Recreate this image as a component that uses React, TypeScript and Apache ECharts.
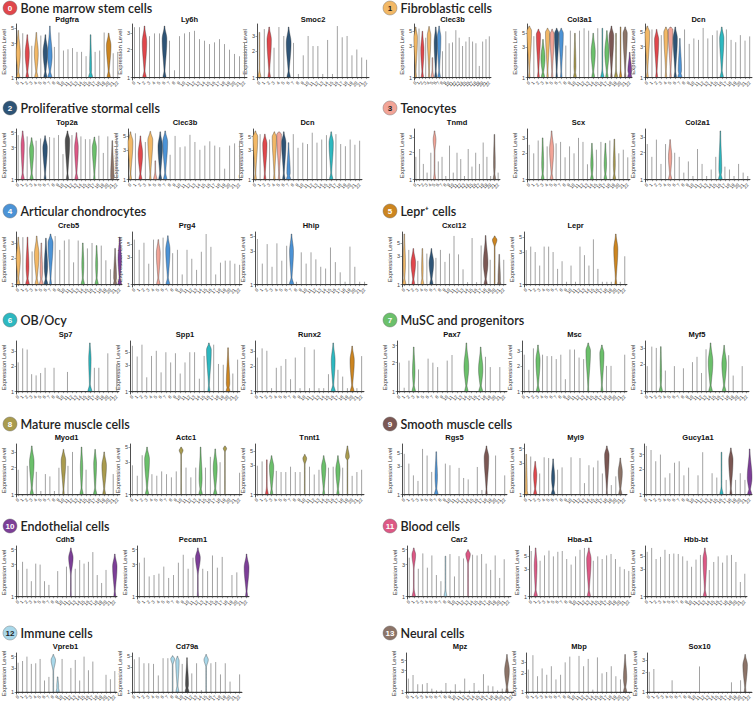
import React, { useEffect, useRef } from "react";
import * as echarts from "echarts";

// ---------- categories ----------
const CLUSTERS = Array.from({ length: 23 }, (_, i) => String(i));
const TYPE_NAMES = ["Bone marrow stem cells", "Fibroblastic cells", "Proliferative stormal cells", "Tenocytes", "Articular chondrocytes", "Lepr\u207A cells", "OB/Ocy", "MuSC and progenitors", "Mature muscle cells", "Smooth muscle cells", "Endothelial cells", "Blood cells", "Immune cells", "Neural cells"];
const TYPE_COLORS = ["#E0474C", "#F2B866", "#2E5476", "#F2A497", "#4C93D6", "#CC8520", "#2DB8C0", "#6BC06B", "#A99B4E", "#7B5753", "#7C3E97", "#DD5885", "#A9D8EA", "#8C7468"];
const CLUSTER_TYPE = [1, 11, 0, 7, 1, 3, 2, 4, 12, 12, 8, -1, 10, 11, 7, 12, 6, 7, 9, 8, 5, 13, 10];
const OTHER_COLOR = "#4D4D4D";

const T135 = [1, 3, 5];
const T123 = [1, 2, 3];

// ---------- data: max expression per cluster, and violin bodies [cluster, mode, width, zeroBlob, low] ----------
const pdgfraMax = [4.6, 4.2, 4.0, 2.8, 4.3, 3.9, 4.0, 5.3, 2.7, 4.3, 2.4, 2.5, 2.6, 2.3, 2.3, 2.0, 4.0, 2.3, 2.4, 4.3, 4.2, 2.2, 2.3];
const pdgfraVio = [[0, 2.2, 0.8, 0.6], [2, 2.2, 0.8, 0.5], [4, 2.2, 0.75, 0.6], [6, 2.3, 0.9, 0.6], [7, 2.0, 0.9, 0.8], [16, 1.3, 0.3, 0.8], [20, 2.8, 0.9, 0.6]];
const ly6hMax = [3.5, 3.5, 3.6, 2.8, 3.0, 3.0, 3.6, 2.5, 1.2, 2.8, 3.0, 3.1, 3.2, 2.6, 2.5, 2.3, 2.4, 2.6, 2.3, 2.0, 1.8, 1.7, 2.4];
const ly6hVio = [[2, 2.4, 0.8, 0.6], [6, 2.6, 0.85, 0.5]];
const smoc2Max = [3.3, 3.6, 3.8, 2.2, 3.8, 3.0, 3.8, 2.5, 1.1, 1.8, 3.0, 2.3, 2.3, 1.1, 2.7, 1.1, 3.9, 2.9, 3.0, 1.8, 2.1, 1.7, 1.6];
const smoc2Vio = [[0, 1, 0, 0.5], [2, 2.7, 0.8, 0.4], [6, 2.5, 0.9, 0.6]];
const clec3bMax = [5.8, 5.5, 5.0, 4.0, 5.9, 2.0, 5.8, 6.0, 2.5, 5.0, 3.3, 3.4, 5.2, 4.0, 3.0, 3.5, 4.1, 3.5, 3.3, 1.5, 3.5, 3.8, 4.2];
const clec3bVio = [[0, 4.0, 0.9, 0.3], [2, 2.6, 0.8, 0.5], [4, 4.3, 0.9, 0.2], [5, 1, 0, 0.6], [6, 3.4, 0.8, 0.5], [7, 4.0, 0.9, 0.6]];
const col3a1Max = [6.5, 4.5, 5.8, 4.0, 6.0, 5.8, 6.0, 6.0, 3.2, 5.5, 5.0, 5.5, 6.0, 5.5, 5.0, 6.0, 6.0, 5.5, 6.5, 5.0, 6.3, 6.3, 2.5];
const col3a1Vio = [[0, 5.5, 0.9, 0.2], [2, 4.8, 0.8, 0.3], [3, 2.0, 0.8, 0.6], [4, 5.2, 0.8, 0.2], [5, 4.8, 0.8, 0.2], [6, 5.0, 0.8, 0.2], [7, 5.0, 0.8, 0.2], [10, 1.5, 0.3, 0.5], [14, 2.5, 0.8, 0.5], [16, 1, 0, 0.6], [17, 2.5, 0.8, 0.4], [18, 4.5, 0.9, 0.2], [19, 1, 0, 0.6], [20, 1, 0, 0.4], [21, 5.0, 0.8, 0.2], [22, 1.3, 0.7, 0.8]];
const dcnMax = [6.2, 5.5, 5.5, 4.5, 6.0, 6.0, 6.0, 4.0, 5.5, 3.3, 4.0, 3.8, 5.8, 4.0, 4.5, 5.3, 6.0, 5.5, 3.8, 3.5, 4.5, 3.7, 4.3];
const dcnVio = [[0, 5.0, 0.9, 0.3], [2, 3.8, 0.8, 0.3], [4, 5.0, 0.8, 0.2], [5, 5.5, 0.9, 0.2], [6, 4.0, 0.8, 0.4], [7, 1.3, 0.6, 0.8], [16, 4.0, 0.8, 0.6]];
const top2aMax = [4.6, 5.3, 4.4, 4.2, 3.8, 4.1, 4.5, 4.3, 4.2, 4.6, 2.4, 5.3, 4.6, 5.0, 4.4, 4.0, 4.0, 4.3, 4.5, 2.5, 4.4, 3.8, 4.3];
const top2aVio = [[1, 3.3, 0.6, 0.6], [3, 2.8, 0.8, 0.6], [6, 3.0, 0.9, 0.3], [11, 3.8, 0.9, 0.4], [13, 3.0, 0.7, 0.6], [17, 3.0, 0.8, 0.2], [21, 1.1, 0.6, 0.6]];
const tnmdMax = [1.8, 2.2, 1.5, 1.2, 2.0, 3.5, 1.6, 1.8, 1.1, 2.4, 1.2, 2.0, 1.7, 1.1, 2.2, 1.4, 2.0, 1.5, 2.6, 1.8, 1.1, 3.2, 1.2];
const tnmdVio = [[5, 2.8, 0.6, 0.4, 2.0], [21, 1.5, 0.3, 0.5]];
const scxMax = [2.5, 2.0, 2.8, 3.0, 2.4, 3.6, 2.6, 2.7, 1.8, 2.4, 2.0, 3.0, 2.7, 1.5, 2.6, 2.2, 2.7, 2.6, 2.8, 2.9, 2.0, 2.2, 1.8];
const scxVio = [[3, 1.5, 0.3, 0.5], [5, 2.2, 0.8, 0.5], [14, 1.5, 0.4, 0.5], [17, 1.5, 0.4, 0.5], [19, 1.5, 0.3, 0.5]];
const col2a1Max = [2.5, 1.8, 2.8, 1.5, 2.5, 2.8, 2.0, 1.8, 1.2, 1.6, 1.1, 2.2, 1.5, 1.1, 1.3, 1.8, 3.5, 1.4, 1.3, 1.1, 1.5, 1.2, 1.1];
const col2a1Vio = [[5, 1.8, 0.6, 0.6], [16, 1.3, 0.5, 0.7]];
const creb5Max = [3.5, 3.5, 3.5, 2.4, 3.6, 3.0, 3.4, 3.8, 3.6, 2.5, 3.2, 3.3, 1.8, 3.2, 3.0, 2.6, 3.0, 2.8, 2.8, 1.9, 1.5, 2.6, 3.5];
const creb5Vio = [[0, 2.0, 0.8, 0.6], [2, 1.6, 0.5, 0.7], [4, 2.2, 0.9, 0.6], [5, 1.4, 0.4, 0.7], [6, 1.6, 0.6, 0.7], [7, 3.0, 1.0, 0.3], [14, 1.7, 0.3, 0.6], [17, 1.7, 0.3, 0.6], [21, 1.2, 0.5, 0.6], [22, 2.0, 0.6, 0.7]];
const prg4Max = [6.0, 4.0, 5.3, 2.3, 6.0, 6.0, 6.5, 7.0, 3.5, 4.0, 1.5, 4.0, 2.8, 1.8, 3.7, 7.5, 4.5, 1.5, 2.4, 2.6, 2.6, 2.3, 2.2];
const prg4Vio = [[5, 3.5, 0.7, 0.6], [7, 4.0, 0.8, 0.7]];
const hhipMax = [4.5, 2.0, 3.8, 1.8, 3.9, 2.2, 3.6, 5.3, 1.1, 2.9, 2.0, 2.9, 2.3, 1.8, 1.7, 3.4, 2.1, 1.5, 1.1, 3.5, 1.8, 1.1, 1.1];
const hhipVio = [[7, 3.0, 0.7, 0.8]];
const cxcl12Max = [7.0, 3.8, 4.0, 2.5, 4.0, 3.3, 4.0, 2.8, 3.8, 2.4, 3.3, 6.5, 3.2, 1.8, 1.1, 6.0, 1.1, 4.5, 6.6, 2.6, 6.5, 3.2, 2.6];
const cxcl12Vio = [[0, 2.2, 0.4, 0.6], [2, 2.3, 0.9, 0.5], [4, 1.8, 0.2, 0.5], [6, 2.3, 0.9, 0.6], [18, 2.3, 0.9, 0.6], [20, 5.6, 0.9, 0.0, 4.2], [21, 1.2, 0.4, 0.6]];
const leprMax = [3.2, 3.6, 3.0, 1.9, 3.6, 3.6, 3.0, 1.7, 2.2, 1.1, 1.9, 1.1, 3.6, 2.7, 1.9, 4.6, 1.7, 1.1, 1.1, 1.1, 5.5, 1.1, 2.6];
const leprVio = [[20, 3.3, 0.8, 0.3]];
const sp7Max = [2.2, 3.2, 3.1, 1.6, 1.55, 1.65, 1.9, 1.0, 1.9, 1.0, 1.0, 1.7, 1.0, 1.0, 1.0, 1.0, 3.7, 1.9, 1.9, 1.0, 2.8, 1.0, 2.1];
const sp7Vio = [[16, 2.4, 0.4, 0.8]];
const spp1Max = [6.5, 4.2, 6.8, 1.8, 4.3, 5.3, 2.2, 5.0, 3.3, 4.8, 2.1, 3.3, 5.0, 5.0, 1.7, 4.3, 7.3, 6.8, 3.1, 3.0, 6.0, 2.1, 3.7];
const spp1Vio = [[16, 5.5, 0.9, 0.3], [20, 1.4, 0.6, 0.7]];
const runx2Max = [2.5, 3.2, 3.0, 1.1, 1.9, 2.0, 2.4, 1.4, 2.5, 1.1, 3.3, 1.1, 3.1, 1.1, 1.1, 1.6, 3.7, 1.8, 1.5, 1.1, 3.4, 1.1, 2.6];
const runx2Vio = [[16, 2.3, 0.7, 0.8], [20, 2.3, 0.8, 0.7]];
const pax7Max = [2.0, 1.1, 2.1, 2.9, 1.7, 1.0, 2.2, 2.0, 1.8, 1.0, 2.1, 2.4, 1.0, 1.0, 3.2, 1.0, 1.0, 2.9, 2.3, 1.8, 1.0, 1.8, 1.0];
const pax7Vio = [[3, 1.6, 0.4, 0.6], [14, 1.8, 0.9, 0.6], [17, 1.7, 0.8, 0.7]];
const mscMax = [2.7, 1.8, 3.2, 3.5, 2.7, 2.6, 2.6, 2.4, 2.7, 1.4, 3.1, 3.1, 2.5, 2.4, 3.7, 1.0, 1.0, 3.5, 2.0, 2.0, 1.0, 1.0, 2.7];
const mscVio = [[3, 2.3, 0.8, 0.6], [14, 3.0, 0.9, 0.1], [17, 2.8, 0.8, 0.3]];
const myf5Max = [1.9, 3.1, 3.0, 3.1, 1.7, 1.0, 1.9, 1.0, 1.8, 1.0, 2.1, 2.4, 1.6, 2.9, 3.4, 1.0, 1.0, 3.2, 2.5, 1.5, 1.0, 1.9, 1.0];
const myf5Vio = [[3, 1.5, 0.2, 0.6], [14, 2.1, 0.9, 0.7], [17, 2.0, 0.9, 0.7]];
const myod1Max = [1.9, 1.0, 2.1, 3.5, 1.8, 1.1, 1.7, 1.6, 1.1, 2.0, 3.2, 2.1, 3.0, 1.0, 3.4, 1.9, 1.0, 3.2, 1.0, 3.0, 1.0, 1.7, 1.0];
const myod1Vio = [[3, 2.3, 0.9, 0.6], [10, 2.4, 0.9, 0.2], [14, 2.0, 0.4, 0.6], [17, 2.2, 0.5, 0.6], [19, 2.1, 0.9, 0.5]];
const actc1Max = [2.7, 1.9, 3.8, 5.0, 2.0, 1.9, 2.2, 2.0, 1.8, 2.2, 5.0, 2.5, 1.8, 2.5, 5.0, 2.5, 3.6, 4.7, 3.0, 5.2, 1.0, 1.0, 2.1];
const actc1Vio = [[3, 3.3, 0.9, 0.6], [10, 4.5, 0.7, 0, 3.8], [14, 1.7, 0.5, 0.6], [17, 2.5, 0.7, 0.6], [19, 4.8, 0.6, 0, 4.2]];
const tnnt1Max = [2.9, 3.4, 3.6, 4.2, 2.4, 2.3, 2.3, 2.8, 2.3, 2.3, 4.4, 2.8, 2.1, 2.5, 4.2, 2.7, 2.8, 4.2, 2.7, 6.0, 2.0, 2.3, 2.5];
const tnnt1Vio = [[2, 1, 0, 0.5], [3, 2.8, 0.8, 0.4], [10, 3.8, 0.7, 0, 3.0], [14, 2.8, 0.8, 0.3], [17, 2.5, 0.8, 0.4], [19, 4.0, 0.7, 0, 3.5]];
const rgs5Max = [4.8, 3.3, 2.1, 1.7, 5.8, 4.5, 2.4, 5.2, 1.0, 3.3, 3.1, 1.0, 2.8, 1.9, 1.8, 1.0, 2.9, 1.2, 6.5, 1.0, 4.5, 1.0, 2.1];
const rgs5Vio = [[7, 2.0, 0.4, 0.7], [18, 4.2, 0.9, 0.2]];
const myl9Max = [4.1, 3.8, 3.2, 2.1, 3.7, 3.6, 3.5, 2.4, 2.6, 1.0, 3.7, 1.0, 3.6, 1.5, 2.8, 2.6, 3.3, 2.1, 5.5, 1.4, 1.9, 3.6, 1.0];
const myl9Vio = [[0, 1.2, 0.3, 0.6], [2, 2.0, 0.6, 0.6], [6, 1.8, 0.6, 0.7], [18, 4.0, 0.9, 0.1], [21, 2.2, 0.8, 0.6]];
const gucy1a1Max = [3.8, 3.4, 2.5, 3.0, 1.6, 1.8, 2.4, 2.5, 1.7, 2.1, 1.0, 1.7, 3.2, 1.0, 1.8, 1.6, 3.2, 1.5, 3.6, 1.5, 1.8, 1.5, 3.5];
const gucy1a1Vio = [[16, 1, 0, 0.6], [18, 2.6, 0.8, 0.3], [22, 1.6, 0.9, 0.8]];
const cdh5Max = [2.5, 3.3, 2.6, 1.7, 3.1, 3.0, 1.7, 1.5, 1.0, 2.4, 1.0, 2.8, 5.3, 2.6, 3.5, 3.1, 3.3, 4.6, 2.1, 1.6, 2.5, 1.0, 4.3];
const cdh5Vio = [[12, 3.8, 0.9, 0.05, 2.0], [22, 2.8, 0.9, 0.3]];
const pecam1Max = [3.2, 3.8, 2.0, 2.1, 2.2, 2.8, 1.9, 2.1, 3.2, 4.2, 2.6, 3.8, 5.3, 2.6, 2.4, 4.1, 2.7, 3.9, 1.0, 2.1, 2.3, 1.0, 4.3];
const pecam1Vio = [[12, 3.8, 0.9, 0.1, 2.0], [22, 2.7, 0.9, 0.3]];
const car2Max = [3.8, 5.3, 2.6, 4.4, 2.7, 4.1, 2.1, 1.7, 4.0, 4.3, 2.0, 4.0, 3.7, 5.0, 4.2, 4.1, 4.3, 3.1, 2.5, 4.1, 1.9, 3.6, 1.0];
const car2Vio = [[1, 4.2, 0.7, 0.6, 2.5], [8, 1, 0, 0.5], [13, 4.3, 0.9, 0, 3.0]];
const hbaMax = [6.2, 7.0, 4.2, 5.2, 6.3, 5.0, 6.0, 6.2, 4.5, 3.6, 5.0, 6.5, 7.0, 7.0, 4.2, 5.0, 4.5, 5.2, 5.5, 4.5, 3.3, 3.0, 2.8];
const hbaVio = [[1, 3.5, 0.5, 0.7], [13, 4.5, 0.9, 0.6]];
const hbbMax = [6.0, 7.0, 4.5, 4.9, 6.5, 5.5, 5.6, 5.5, 5.0, 4.2, 3.3, 4.4, 5.3, 7.0, 2.9, 4.0, 5.0, 3.9, 5.2, 5.3, 4.0, 1.8, 2.5];
const hbbVio = [[13, 4.5, 0.7, 0.6]];
const vpreb1Max = [3.8, 4.1, 5.0, 3.6, 3.7, 4.5, 1.7, 2.0, 5.5, 2.0, 4.5, 1.0, 3.0, 4.3, 1.7, 5.0, 2.7, 4.0, 1.0, 1.0, 2.2, 1.8, 2.6];
const vpreb1Vio = [[8, 4.3, 0.9, 0, 2.5], [9, 1.3, 0.3, 0.6]];
const cd79aMax = [4.3, 4.7, 3.6, 3.6, 3.5, 2.1, 4.5, 4.5, 5.0, 4.9, 3.5, 4.6, 2.3, 3.6, 1.1, 5.3, 3.6, 3.8, 2.2, 3.6, 1.6, 1.0, 2.2];
const cd79aVio = [[8, 4.4, 0.7, 0, 3.3], [9, 4.0, 0.6, 0.5], [11, 1.4, 0.5, 0.7], [15, 4.2, 0.8, 0, 3.0]];
const mpzMax = [2.0, 2.4, 1.5, 1.5, 1.6, 1.2, 1.1, 1.1, 1.6, 1.1, 1.5, 1.1, 2.0, 1.1, 1.6, 1.1, 2.5, 1.4, 1.35, 1.1, 1.2, 6.8, 1.0];
const mpzVio = [[21, 3.0, 0.9, 0.4]];
const mbpMax = [2.3, 3.9, 1.8, 2.4, 1.9, 2.6, 1.6, 1.9, 3.0, 3.7, 1.0, 3.8, 2.6, 3.4, 1.1, 3.6, 2.0, 2.1, 2.6, 1.8, 1.6, 4.0, 1.0];
const mbpVio = [[21, 1.7, 0.6, 0.6]];
const sox10Max = [2.0, 2.2, 1.0, 1.0, 1.0, 1.5, 1.0, 1.0, 1.0, 1.0, 1.0, 2.4, 1.0, 1.0, 1.0, 1.0, 1.0, 1.0, 1.4, 1.0, 1.5, 3.6, 1.0];
const sox10Vio = [[21, 2.5, 0.9, 0.2]];

// gene -> [max, violins, ticks]
const GENE = {
  Pdgfra: [pdgfraMax, pdgfraVio, T135], Ly6h: [ly6hMax, ly6hVio, T123], Smoc2: [smoc2Max, smoc2Vio, T123],
  Clec3b: [clec3bMax, clec3bVio, T135], Col3a1: [col3a1Max, col3a1Vio, T135], Dcn: [dcnMax, dcnVio, T135],
  Top2a: [top2aMax, top2aVio, T135], Tnmd: [tnmdMax, tnmdVio, T123], Scx: [scxMax, scxVio, T123], Col2a1: [col2a1Max, col2a1Vio, T123],
  Creb5: [creb5Max, creb5Vio, T123], Prg4: [prg4Max, prg4Vio, T135], Hhip: [hhipMax, hhipVio, T135],
  Cxcl12: [cxcl12Max, cxcl12Vio, T135], Lepr: [leprMax, leprVio, T135],
  Sp7: [sp7Max, sp7Vio, T123], Spp1: [spp1Max, spp1Vio, T135], Runx2: [runx2Max, runx2Vio, T123],
  Pax7: [pax7Max, pax7Vio, T123], Msc: [mscMax, mscVio, T123], Myf5: [myf5Max, myf5Vio, T123],
  Myod1: [myod1Max, myod1Vio, T123], Actc1: [actc1Max, actc1Vio, T135], Tnnt1: [tnnt1Max, tnnt1Vio, T135],
  Rgs5: [rgs5Max, rgs5Vio, T135], Myl9: [myl9Max, myl9Vio, T135], Gucy1a1: [gucy1a1Max, gucy1a1Vio, T123],
  Cdh5: [cdh5Max, cdh5Vio, T135], Pecam1: [pecam1Max, pecam1Vio, T135],
  Car2: [car2Max, car2Vio, T135], "Hba-a1": [hbaMax, hbaVio, T135], "Hbb-bt": [hbbMax, hbbVio, T135],
  Vpreb1: [vpreb1Max, vpreb1Vio, T135], Cd79a: [cd79aMax, cd79aVio, T135],
  Mpz: [mpzMax, mpzVio, T135], Mbp: [mbpMax, mbpVio, T123], Sox10: [sox10Max, sox10Vio, T123],
};

const SECTION_GENES = [
  ["Pdgfra", "Ly6h", "Smoc2"], ["Clec3b", "Col3a1", "Dcn"],
  ["Top2a", "Clec3b", "Dcn"], ["Tnmd", "Scx", "Col2a1"],
  ["Creb5", "Prg4", "Hhip"], ["Cxcl12", "Lepr"],
  ["Sp7", "Spp1", "Runx2"], ["Pax7", "Msc", "Myf5"],
  ["Myod1", "Actc1", "Tnnt1"], ["Rgs5", "Myl9", "Gucy1a1"],
  ["Cdh5", "Pecam1"], ["Car2", "Hba-a1", "Hbb-bt"],
  ["Vpreb1", "Cd79a"], ["Mpz", "Mbp", "Sox10"],
];

// ---------- layout ----------
const ROWS = [
  { header: 8, title: 19, top: 24, bottom: 80 },
  { header: 108, title: 122, top: 129, bottom: 182 },
  { header: 211, title: 225, top: 232, bottom: 287 },
  { header: 320, title: 334, top: 341, bottom: 394 },
  { header: 424, title: 437, top: 444, bottom: 497 },
  { header: 526, title: 539, top: 546, bottom: 599 },
  { header: 633, title: 646, top: 653, bottom: 694 },
];
const PANEL_X = [
  [[14, 120], [132, 247], [257, 369]],
  [[414, 491], [527, 632], [645, 752]],
  [[15, 119], [128, 242], [253, 362]],
  [[414, 500], [527, 630], [645, 750]],
  [[15, 122], [132, 242], [255, 367]],
  [[402, 506], [524, 627]],
  [[12, 119], [130, 240], [255, 364]],
  [[397, 507], [522, 627], [645, 749]],
  [[13, 120], [130, 242], [255, 364]],
  [[402, 507], [524, 627], [644, 752]],
  [[13, 117], [137, 249]],
  [[407, 511], [529, 631], [645, 747]],
  [[14, 117], [132, 242]],
  [[406, 514], [526, 632], [647, 752]],
];
const DARK_NUM = [1, 3, 12];

function clusterColor(i) {
  const t = CLUSTER_TYPE[i];
  return t < 0 ? OTHER_COLOR : TYPE_COLORS[t];
}

function makeRender(maxArr, vio) {
  return (params, api) => {
    const i = api.value(0);
    const top = maxArr[i];
    const base = api.coord([i, 0]);
    const band = api.size([1, 0])[0];
    const half = band * 0.47;
    const children = [];
    const v = vio.find((d) => d[0] === i);
    const uT = Math.log(top);
    if (!v) {
      const yT = api.coord([i, uT])[1];
      children.push({ type: "line", shape: { x1: base[0], y1: base[1], x2: base[0], y2: yT }, style: { stroke: "#8a8a8a", lineWidth: 0.8 } });
    } else {
      const mid = v[1], w = v[2], blob = v[3], lo = v[4] !== undefined ? v[4] : 1;
      const uM = Math.log(mid), uL = Math.log(lo);
      const N = 50;
      const left = [], right = [];
      for (let s = 0; s <= N; s++) {
        const u = (uT * s) / N;
        const y = api.coord([i, u])[1];
        const dy = base[1] - y;
        let sp = 0;
        if (w > 0 && u >= uL && u <= uT) {
          let f;
          if (u < uM) f = uM - uL > 0 ? (u - uL) / (uM - uL) : 1;
          else f = uT - uM > 0 ? (uT - u) / (uT - uM) : 1;
          f = Math.max(0, Math.min(1, f));
          sp = w * (0.5 - 0.5 * Math.cos(Math.PI * f));
        }
        const bl = blob * Math.exp(-((dy / 4.5) ** 2));
        const hw = Math.max(sp, bl) * half + 0.35;
        left.push([base[0] - hw, y]);
        right.push([base[0] + hw, y]);
      }
      children.push({ type: "polygon", shape: { points: left.concat(right.reverse()) }, style: { fill: clusterColor(i), stroke: "#2a2a2a", lineWidth: 0.35 } });
    }
    children.push({ type: "line", shape: { x1: base[0] - half, y1: base[1], x2: base[0] + half, y2: base[1] }, style: { stroke: "#333", lineWidth: 0.9 } });
    return { type: "group", children };
  };
}

function buildOption() {
  const grid = [], xAxis = [], yAxis = [], series = [], graphic = [];
  let gi = 0;
  SECTION_GENES.forEach((genes, s) => {
    const row = ROWS[Math.floor(s / 2)];
    const right = s % 2 === 1;
    const cx = right ? 390 : 10;
    const col = TYPE_COLORS[s];
    graphic.push({ type: "circle", shape: { cx, cy: row.header, r: 7 }, style: { fill: col, stroke: "#666", lineWidth: 0.4 } });
    graphic.push({ type: "text", x: cx, y: row.header, style: { text: String(s), fill: DARK_NUM.includes(s) ? "#222" : "#fff", font: "bold 8px 'Liberation Sans', Arial", align: "center", verticalAlign: "middle" } });
    graphic.push({ type: "text", x: cx + 10.5, y: row.header, style: { text: TYPE_NAMES[s], fill: "#222", font: "600 12.5px Lato, 'Open Sans', sans-serif", align: "left", verticalAlign: "middle" } });
    genes.forEach((g, k) => {
      const [maxArr, vio, ticks] = GENE[g];
      const [x0, x1] = PANEL_X[s][k];
      const uTop = Math.log(Math.max(...maxArr)) * 1.04;
      const uMin = -0.045 * uTop;
      grid.push({ left: x0, top: row.top, width: x1 - x0, height: row.bottom - row.top, containLabel: false });
      xAxis.push({
        type: "category", gridIndex: gi, data: CLUSTERS, boundaryGap: true,
        axisLine: { lineStyle: { color: "#222", width: 0.8 } },
        axisTick: { show: true, length: 1.5, alignWithLabel: true, lineStyle: { color: "#444", width: 0.5 } },
        axisLabel: { interval: 0, rotate: 50, fontSize: 4.6, color: "#333", margin: 2, fontFamily: "'Liberation Sans', Arial" },
      });
      const tv = ticks.map((t) => Math.log(t));
      yAxis.push({
        type: "value", gridIndex: gi, min: uMin, max: uTop,
        name: "Expression Level", nameLocation: "middle", nameGap: 7,
        nameTextStyle: { fontSize: 6, color: "#333", fontFamily: "'Liberation Sans', Arial" },
        axisLine: { show: true, lineStyle: { color: "#222", width: 0.8 } },
        axisTick: { show: true, length: 1.5, customValues: tv, lineStyle: { color: "#444", width: 0.5 } },
        axisLabel: { customValues: tv, fontSize: 5.5, color: "#444", margin: 2, fontFamily: "'Liberation Sans', Arial", formatter: (val) => String(Math.round(Math.exp(val))) },
        splitLine: { show: false },
      });
      series.push({
        type: "custom", xAxisIndex: gi, yAxisIndex: gi, clip: false,
        renderItem: makeRender(maxArr, vio),
        data: CLUSTERS.map((_, i) => [i, 0]),
        encode: { x: 0, y: 1 },
      });
      graphic.push({ type: "text", x: (x0 + x1) / 2, y: row.title, style: { text: g, fill: "#111", font: "bold 7.5px 'Liberation Sans', Arial", align: "center", verticalAlign: "middle" } });
      gi++;
    });
  });
  return { animation: false, backgroundColor: "#fff", grid, xAxis, yAxis, series, graphic };
}

export default function App() {
  const ref = useRef(null);
  useEffect(() => {
    const chart = echarts.init(ref.current, null, { renderer: "svg" });
    chart.setOption(buildOption());
    return () => chart.dispose();
  }, []);
  return <div ref={ref} style={{ position: "fixed", left: 0, top: 0, width: 754, height: 714, background: "#fff" }} />;
}
